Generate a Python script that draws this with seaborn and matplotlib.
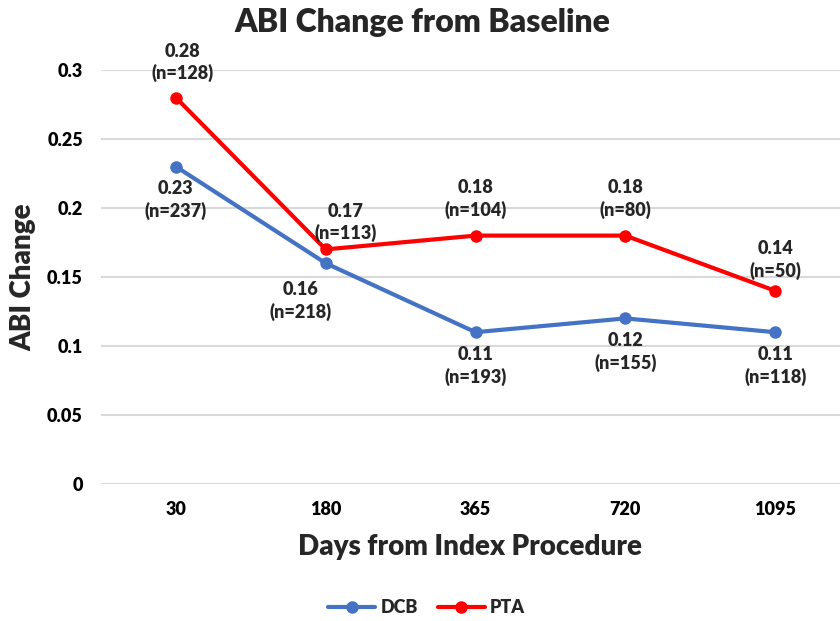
import matplotlib
matplotlib.use("Agg")
import matplotlib.pyplot as plt
import seaborn as sns
import pandas as pd

days = ["30", "180", "365", "720", "1095"]
dcb_values = [0.23, 0.16, 0.11, 0.12, 0.11]
dcb_n = [237, 218, 193, 155, 118]
pta_values = [0.28, 0.17, 0.18, 0.18, 0.14]
pta_n = [128, 113, 104, 80, 50]
y_ticks = [0, 0.05, 0.1, 0.15, 0.2, 0.25, 0.3]
y_tick_labels = ["0", "0.05", "0.1", "0.15", "0.2", "0.25", "0.3"]

df = pd.DataFrame({
    "Days": days * 2,
    "ABI": dcb_values + pta_values,
    "Group": ["DCB"] * len(days) + ["PTA"] * len(days),
})

sns.set_theme(style="white")
plt.rcParams["font.family"] = ["Lato", "DejaVu Sans"]
W = "heavy"

colors = {"DCB": "#4472C4", "PTA": "#FF0000"}

fig = plt.figure(figsize=(8.4, 6.21), dpi=100)
ax = fig.add_axes([0.1202, 0.2206, 0.8798, 0.6667])

sns.lineplot(data=df, x="Days", y="ABI", hue="Group", palette=colors,
             marker="o", markersize=9, markeredgewidth=0, linewidth=3,
             sort=False, ax=ax, legend=False)

ax.set_ylim(0, 0.3)
ax.set_xlim(-0.5, 4.433)
ax.set_yticks(y_ticks)
ax.set_yticklabels(y_tick_labels)
ax.yaxis.grid(True, color="#D9D9D9", linewidth=1.5)
ax.set_axisbelow(True)
for s in ax.spines.values():
    s.set_visible(False)
ax.tick_params(axis="both", length=0, labelsize=13)
ax.tick_params(axis="x", pad=12)
ax.tick_params(axis="y", pad=13)
for lbl in ax.get_xticklabels() + ax.get_yticklabels():
    lbl.set_fontweight(W)
    lbl.set_color("black")

ax.set_xlabel("Days from Index Procedure", fontsize=20, fontweight=W, labelpad=12)
ax.set_ylabel("ABI Change", fontsize=20, fontweight=W, labelpad=8)
fig.text(0.503, 0.963, "ABI Change from Baseline", ha="center", va="center",
         fontsize=23, fontweight=W)

dcb_offsets = [(0, -10), (-18, -13), (0, -10), (0, -10), (0, -10)]
pta_offsets = [(5, 11), (14, 5), (0, 12), (0, 12), (0, 8)]

for i, (v, n) in enumerate(zip(dcb_values, dcb_n)):
    ax.annotate(f"{v:g}\n(n={n})", (i, v), xytext=dcb_offsets[i],
                textcoords="offset points", ha="center", va="top",
                fontsize=13, fontweight=W, linespacing=1.3)
for i, (v, n) in enumerate(zip(pta_values, pta_n)):
    ax.annotate(f"{v:g}\n(n={n})", (i, v), xytext=pta_offsets[i],
                textcoords="offset points", ha="center", va="bottom",
                fontsize=13, fontweight=W, linespacing=1.3,
                annotation_clip=False)

handles = [plt.Line2D([], [], color=colors[g], marker="o", markersize=9,
                      linewidth=3, markeredgewidth=0) for g in ["DCB", "PTA"]]
fig.legend(handles, ["DCB", "PTA"], loc="center", bbox_to_anchor=(0.508, 0.022),
           ncol=2, frameon=False, prop={"size": 13, "weight": W},
           handlelength=2.6, columnspacing=1.1, handletextpad=0.3)

fig.savefig("out.png", dpi=100)
